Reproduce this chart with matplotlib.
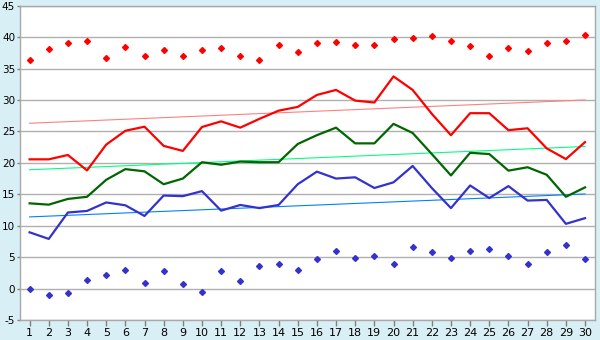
import matplotlib
matplotlib.use("Agg")
import matplotlib.pyplot as plt
import numpy as np

days = list(range(1, 31))

red_points = [36.4, 38.1, 39.0, 39.4, 36.7, 38.5, 37.0, 37.9, 37.0, 37.9,
              38.3, 37.0, 36.4, 38.7, 37.6, 39.0, 39.2, 38.7, 38.7, 39.7,
              39.85, 40.2, 39.4, 38.6, 37.0, 38.3, 37.8, 39.05, 39.4, 40.3]
blue_points = [0.0, -1.0, -0.7, 1.4, 2.2, 3.0, 0.9, 2.8, 0.75, -0.5,
               2.8, 1.2, 3.6, 3.9, 3.0, 4.7, 6.0, 4.9, 5.2, 3.9,
               6.6, 5.8, 4.9, 6.0, 6.3, 5.2, 3.9, 5.8, 6.9, 4.7]
red_line = [20.56, 20.56, 21.25, 18.8, 22.9, 25.1, 25.75, 22.7, 21.9, 25.7,
            26.6, 25.6, 27.0, 28.3, 28.9, 30.8, 31.6, 29.9, 29.6, 33.75,
            31.6, 27.8, 24.4, 27.9, 27.9, 25.2, 25.5, 22.3, 20.6, 23.3]
green_line = [13.56, 13.35, 14.26, 14.6, 17.3, 19.0, 18.65, 16.6, 17.5, 20.1,
              19.7, 20.2, 20.1, 20.1, 23.0, 24.4, 25.6, 23.1, 23.1, 26.2,
              24.75, 21.4, 18.0, 21.6, 21.4, 18.76, 19.3, 18.1, 14.6, 16.1]
blue_line = [8.95, 7.9, 12.1, 12.35, 13.7, 13.25, 11.55, 14.8, 14.7, 15.5,
             12.4, 13.3, 12.8, 13.3, 16.6, 18.6, 17.5, 17.7, 16.0, 16.9,
             19.5, 16.0, 12.8, 16.4, 14.4, 16.3, 14.0, 14.1, 10.3, 11.2]
# trend endpoints (day 1, day 30)
trend_days = [1, 30]
red_trend = [26.3, 30.0]
green_trend = [18.9, 22.6]
blue_trend = [11.4, 15.05]

yticks = list(range(-5, 50, 5))
ytick_labels = ["-5", "0", "5", "10", "15", "20", "25", "30", "35", "40", "45"]

bg = "#d9eff6"
fig = plt.figure(figsize=(6, 3.4), dpi=100, facecolor=bg)
ax = fig.add_axes([20/600, 1 - 320/340, 575/600, (320 - 5.7)/340])
ax.set_facecolor("white")

ax.plot(trend_days, red_trend, color="#ff8080", lw=0.8, zorder=2)
ax.plot(trend_days, green_trend, color="#00ff80", lw=0.8, zorder=2)
ax.plot(trend_days, blue_trend, color="#0080ff", lw=0.8, zorder=2)

ax.plot(days, red_line, color="#ff0000", lw=1.6, zorder=3)
ax.plot(days, green_line, color="#006600", lw=1.6, zorder=3)
ax.plot(days, blue_line, color="#3333cc", lw=1.6, zorder=3)

ax.plot(days, red_points, ls="none", marker="D", ms=3.0, color="#ff0000", zorder=4)
ax.plot(days, blue_points, ls="none", marker="D", ms=3.0, color="#3333cc", zorder=4)

ax.set_xlim(0.5, 30.52)
ax.set_ylim(-5, 45)
ax.set_xticks(days)
ax.set_xticklabels([str(d) for d in days])
ax.set_yticks(yticks)
ax.set_yticklabels(ytick_labels)
ax.grid(axis="y", color="#b0b0b0", lw=1.0)
ax.set_axisbelow(True)
for s in ax.spines.values():
    s.set_color("#a8a8a8")
    s.set_linewidth(1.0)
ax.tick_params(axis="x", direction="out", length=4, width=1, color="#808080",
               labelsize=8, labelcolor="black", pad=2)
ax.tick_params(axis="y", direction="out", length=2.5, width=1, color="#808080",
               labelsize=7.5, labelcolor="black", pad=1)

fig.savefig("out.png", dpi=100, facecolor=bg)
